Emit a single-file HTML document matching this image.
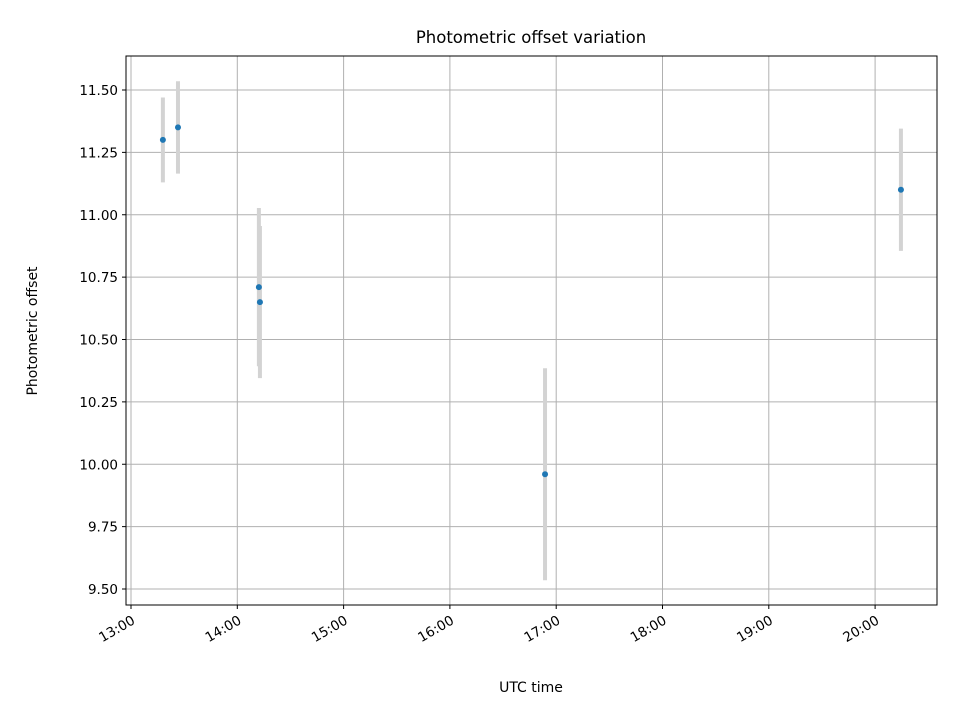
<!DOCTYPE html>
<html><head><meta charset="utf-8"><style>
body{margin:0;background:#fff}
svg text{font-family:"DejaVu Sans","Liberation Sans",sans-serif;fill:#000}
</style></head><body>
<svg id="chart" width="960" height="720" xmlns="http://www.w3.org/2000/svg">
<rect width="960" height="720" fill="#fff"/>
<g id="grid"></g><g id="errs"></g><g id="pts"></g>
<rect x="126" y="56" width="811" height="549" fill="none" stroke="#000" stroke-width="1"/>
<g id="ticks"></g>
<text x="531" y="43" font-size="16.5" text-anchor="middle">Photometric offset variation</text>
<text x="531" y="692" font-size="14" text-anchor="middle">UTC time</text>
<text transform="translate(37,331) rotate(-90)" font-size="14" text-anchor="middle">Photometric offset</text>
</svg>
<script>
const times=[13.30,13.442,14.203,14.213,16.895,20.243];
const offsets=[11.30,11.35,10.71,10.65,9.96,11.10];
const errors=[0.17,0.185,0.317,0.305,0.425,0.245];
const yTicks=[9.5,9.75,10,10.25,10.5,10.75,11,11.25,11.5];
const xTicks=[13,14,15,16,17,18,19,20];
const L=126,R=937,T=56,B=605;
const xs=h=>131+(h-13)*106.3;
const ys=v=>90+(11.5-v)*249.5;
const NS="http://www.w3.org/2000/svg";
function mk(t,a,p){const e=document.createElementNS(NS,t);for(const k in a)e.setAttribute(k,a[k]);p.appendChild(e);return e;}
const grid=document.getElementById('grid'),ticks=document.getElementById('ticks');
yTicks.forEach(v=>{const y=ys(v);
const g=mk('line',{x1:L,x2:R,y1:y,y2:y,stroke:'#b0b0b0','stroke-width':1},grid);


const t=mk('line',{x1:L-4,x2:L,y1:y,y2:y,stroke:'#000'},ticks);


const l=mk('text',{x:L-8,y:y+5,'font-size':13.5,'text-anchor':'end'},ticks);
l.textContent=v.toFixed(2);

});
xTicks.forEach(h=>{const x=xs(h);
const g=mk('line',{x1:x,x2:x,y1:T,y2:B,stroke:'#b0b0b0','stroke-width':1},grid);


const t=mk('line',{x1:x,x2:x,y1:B,y2:B+4,stroke:'#000'},ticks);


const l=mk('text',{x:x+5,y:B+18,'font-size':13.5,'text-anchor':'end',transform:`rotate(-30 ${x+5} ${B+18})`},ticks);
l.textContent=h+':00';

});
const errs=document.getElementById('errs'),pts=document.getElementById('pts');
times.forEach((h,i)=>{const x=xs(h);
const e=mk('line',{x1:x,x2:x,y1:ys(offsets[i]+errors[i]),y2:ys(offsets[i]-errors[i]),stroke:'#d3d3d3','stroke-width':4},errs);


const c=mk('circle',{cx:x,cy:ys(offsets[i]),r:3,fill:'#1f77b4'},pts);

});
</script>
</body></html>
